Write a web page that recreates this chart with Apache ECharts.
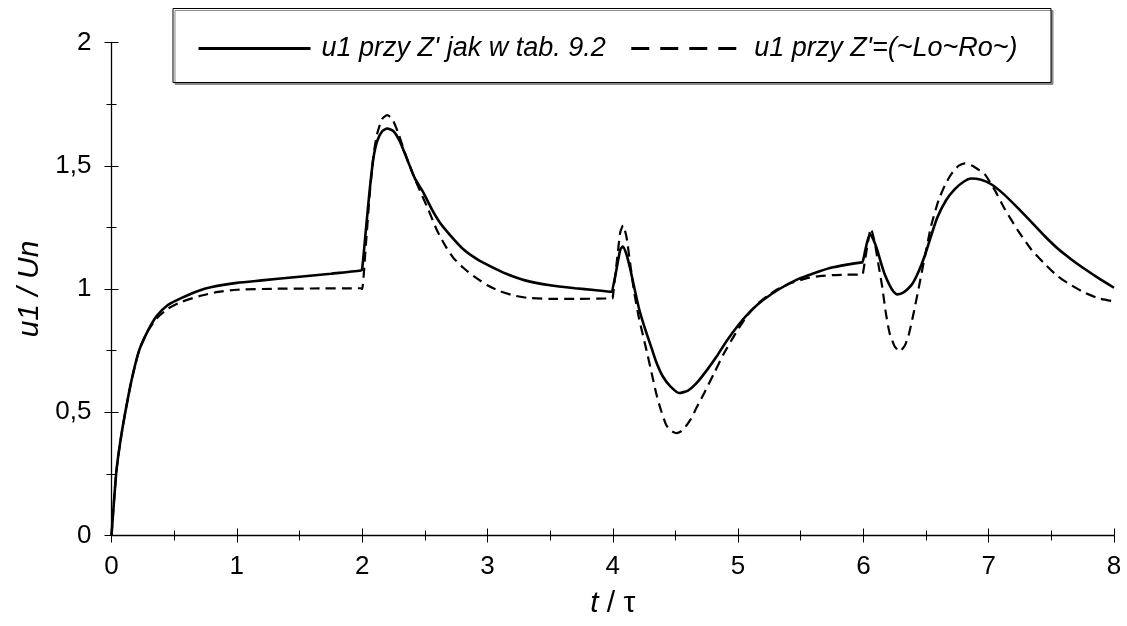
<!DOCTYPE html>
<html>
<head>
<meta charset="utf-8">
<title>u1 / Un</title>
<script src="https://cdn.jsdelivr.net/npm/echarts@6/dist/echarts.min.js"></script>
<style>
  html, body { margin: 0; padding: 0; background: #fff; }
  #chart { width: 1127px; height: 626px; }
</style>
</head>
<body>
<div id="chart"></div>
<script>
// Series names
const seriesNames = ["u1 przy Z' jak w tab. 9.2", "u1 przy Z'=(~Lo~Ro~)"];

// Solid curve: time (t/τ) and voltage (u1/Un)
const tSolid = [0, 0.02, 0.04, 0.07, 0.11, 0.16, 0.22, 0.29, 0.36, 0.45, 0.56, 0.68, 0.8, 1.0, 1.2, 1.5, 1.75, 1.99,
  2.0, 2.03, 2.06, 2.09, 2.12, 2.16, 2.2, 2.25, 2.3, 2.36, 2.42, 2.49, 2.56, 2.62, 2.7, 2.81, 2.92, 3.02, 3.15, 3.3, 3.5, 3.7, 3.85, 3.995,
  4.0, 4.03, 4.06, 4.08, 4.11, 4.14, 4.17, 4.21, 4.26, 4.31, 4.35, 4.4, 4.46, 4.53, 4.6, 4.67, 4.75, 4.83, 4.91, 5.0, 5.1, 5.2, 5.33, 5.47, 5.6, 5.74, 5.87, 5.995,
  6.0, 6.03, 6.053, 6.08, 6.11, 6.14, 6.17, 6.21, 6.24, 6.27, 6.31, 6.35, 6.39, 6.44, 6.49, 6.54, 6.59, 6.66, 6.73, 6.8, 6.86, 6.94, 7.02, 7.12, 7.23, 7.34, 7.45, 7.56, 7.66, 7.77, 7.87, 8.0];
const uSolid = [0, 0.14, 0.265, 0.38, 0.5, 0.63, 0.75, 0.83, 0.89, 0.935, 0.964, 0.99, 1.008, 1.025, 1.035, 1.05, 1.062, 1.075,
  1.08, 1.24, 1.40, 1.53, 1.60, 1.64, 1.651, 1.64, 1.60, 1.525, 1.45, 1.39, 1.32, 1.27, 1.22, 1.16, 1.12, 1.093, 1.062, 1.035, 1.015, 1.003, 0.996, 0.989,
  0.99, 1.08, 1.16, 1.172, 1.14, 1.08, 1.01, 0.92, 0.835, 0.76, 0.70, 0.645, 0.605, 0.578, 0.588, 0.619, 0.67, 0.727, 0.79, 0.852, 0.91, 0.955, 1.0, 1.038, 1.063, 1.086, 1.099, 1.109,
  1.11, 1.19, 1.222, 1.20, 1.16, 1.107, 1.06, 1.015, 0.99, 0.978, 0.983, 0.998, 1.02, 1.07, 1.135, 1.215, 1.29, 1.36, 1.405, 1.435, 1.448, 1.443, 1.425, 1.385, 1.33, 1.272, 1.213, 1.16, 1.12, 1.08, 1.046, 1.005];

// Dashed curve: time (t/τ) and voltage (u1/Un)
const tDashed = [0, 0.02, 0.04, 0.07, 0.11, 0.16, 0.22, 0.29, 0.36, 0.45, 0.56, 0.7, 0.85, 1.0, 1.3, 1.6, 1.99,
  2.0, 2.03, 2.06, 2.09, 2.12, 2.16, 2.2, 2.24, 2.29, 2.35, 2.41, 2.46, 2.53, 2.6, 2.67, 2.73, 2.81, 2.89, 3.0, 3.1, 3.2, 3.32, 3.5, 3.7, 3.995,
  4.0, 4.03, 4.06, 4.082, 4.11, 4.14, 4.17, 4.21, 4.27, 4.31, 4.35, 4.39, 4.43, 4.47, 4.51, 4.56, 4.62, 4.67, 4.73, 4.81, 4.89, 4.98, 5.07, 5.15, 5.23, 5.31, 5.43, 5.55, 5.65, 5.75, 5.87, 5.995,
  6.0, 6.03, 6.06, 6.09, 6.12, 6.15, 6.18, 6.21, 6.25, 6.29, 6.33, 6.36, 6.4, 6.44, 6.49, 6.54, 6.6, 6.65, 6.7, 6.76, 6.81, 6.87, 6.93, 6.97, 7.05, 7.13, 7.23, 7.34, 7.45, 7.55, 7.66, 7.77, 7.88, 8.0];
const uDashed = [0, 0.14, 0.265, 0.38, 0.5, 0.63, 0.75, 0.83, 0.88, 0.92, 0.948, 0.971, 0.988, 0.997, 1.001, 1.002, 1.003,
  1.0, 1.18, 1.38, 1.54, 1.63, 1.69, 1.705, 1.69, 1.63, 1.54, 1.46, 1.40, 1.32, 1.235, 1.17, 1.125, 1.085, 1.052, 1.015, 0.991, 0.975, 0.964, 0.96, 0.96, 0.962,
  0.965, 1.10, 1.23, 1.258, 1.21, 1.10, 0.99, 0.88, 0.75, 0.66, 0.57, 0.5, 0.445, 0.423, 0.415, 0.428, 0.47, 0.52, 0.578, 0.66, 0.741, 0.82, 0.89, 0.937, 0.97, 0.998, 1.025, 1.044, 1.052, 1.056, 1.058, 1.059,
  1.06, 1.17, 1.245, 1.19, 1.10, 1.01, 0.9, 0.82, 0.767, 0.747, 0.77, 0.81, 0.9, 1.0, 1.13, 1.255, 1.36, 1.42, 1.465, 1.5, 1.51, 1.5, 1.48, 1.465, 1.4, 1.323, 1.24, 1.16, 1.1, 1.052, 1.015, 0.984, 0.962, 0.95];

const pairs = (xs, ys) => xs.map((x, i) => [x, ys[i]]);

const FONT = '"Liberation Sans", Arial, sans-serif';

const chart = echarts.init(document.getElementById('chart'), null, { renderer: 'canvas' });

const axisColor = '#000';
const baseX = {
  type: 'value', min: 0, max: 8, interval: 1, position: 'bottom',
  axisLine: { show: true, onZero: false, lineStyle: { color: axisColor, width: 1.3 } },
  splitLine: { show: false },
  minorTick: { show: true, splitNumber: 2, length: 5, lineStyle: { color: axisColor, width: 1 } }
};
const baseY = {
  type: 'value', min: 0, max: 2, interval: 0.5, position: 'left',
  axisLine: { show: true, onZero: false, lineStyle: { color: axisColor, width: 1.3 } },
  splitLine: { show: false },
  minorTick: { show: true, splitNumber: 2, length: 5, lineStyle: { color: axisColor, width: 1 } }
};

chart.setOption({
  animation: false,
  backgroundColor: '#fff',
  color: ['#000', '#000'],
  grid: { left: 111.5, right: 13, top: 42.5, bottom: 90.5, outerBoundsMode: 'none' },
  graphic: [{
    type: 'rect', z: 0,
    shape: { x: 173, y: 8.5, width: 878, height: 74 },
    style: { fill: '#fff', stroke: '#000', lineWidth: 1, shadowColor: '#8a8a8a', shadowOffsetX: 2, shadowOffsetY: 2, shadowBlur: 0 }
  }],
  legend: {
    z: 5,
    left: 192, top: 30,
    itemWidth: 112, itemHeight: 24, itemGap: 24,
    itemStyle: { opacity: 0 },
    textStyle: { fontFamily: FONT, fontStyle: 'italic', fontSize: 27, color: '#000', padding: [0, 0, 0, 6] },
    data: [
      { name: seriesNames[0], lineStyle: { width: 3, type: 'solid', color: '#000' } },
      { name: seriesNames[1], lineStyle: { width: 3, type: [18, 11], color: '#000' } }
    ]
  },
  xAxis: [
    Object.assign({}, baseX, {
      axisTick: { show: true, inside: false, length: 7, lineStyle: { color: axisColor, width: 1 } },
      axisLabel: { show: true, margin: 18, fontFamily: FONT, fontSize: 26, color: '#000' },
      name: '{i|t} / τ', nameLocation: 'middle', nameGap: 53,
      nameTextStyle: { fontFamily: FONT, fontSize: 30, color: '#000', rich: { i: { fontFamily: FONT, fontStyle: 'italic', fontSize: 30, color: '#000' } } }
    }),
    Object.assign({}, baseX, {
      axisLine: { show: false },
      axisTick: { show: true, inside: true, length: 7, lineStyle: { color: axisColor, width: 1 } },
      axisLabel: { show: false }
    })
  ],
  yAxis: [
    Object.assign({}, baseY, {
      axisTick: { show: true, inside: false, length: 7, lineStyle: { color: axisColor, width: 1 } },
      axisLabel: { show: true, margin: 20, fontFamily: FONT, fontSize: 26, color: '#000', formatter: v => String(v).replace('.', ',') },
      name: 'u1 / Un', nameLocation: 'middle', nameRotate: 90, nameGap: 64,
      nameTextStyle: { fontFamily: FONT, fontStyle: 'italic', fontSize: 30, color: '#000' }
    }),
    Object.assign({}, baseY, {
      axisLine: { show: false },
      axisTick: { show: true, inside: true, length: 7, lineStyle: { color: axisColor, width: 1 } },
      axisLabel: { show: false }
    })
  ],
  series: [
    {
      name: seriesNames[0], type: 'line', xAxisIndex: 0, yAxisIndex: 0,
      data: pairs(tSolid, uSolid), showSymbol: false, symbol: 'none', smooth: 0.2, z: 3,
      itemStyle: { color: '#000' },
      lineStyle: { color: '#000', width: 2.6, type: 'solid' }
    },
    {
      name: seriesNames[1], type: 'line', xAxisIndex: 0, yAxisIndex: 0,
      data: pairs(tDashed, uDashed), showSymbol: false, symbol: 'none', smooth: 0.2, z: 3,
      itemStyle: { color: '#000' },
      lineStyle: { color: '#000', width: 2.2, type: [10, 6] }
    }
  ]
});
</script>
</body>
</html>
